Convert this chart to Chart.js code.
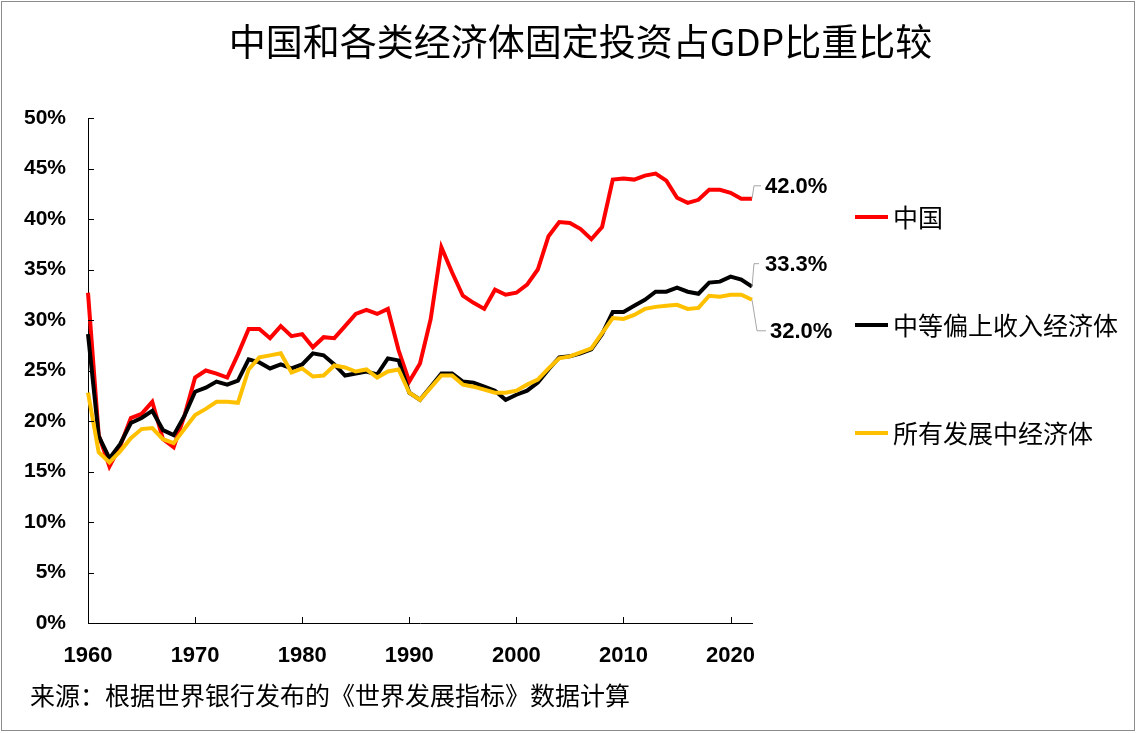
<!DOCTYPE html>
<html>
<head>
<meta charset="utf-8">
<script src="https://cdn.jsdelivr.net/npm/chart.js@4/dist/chart.umd.min.js"></script>
<style>
  html, body { margin: 0; padding: 0; background: #fff; }
  #wrap { width: 1137px; height: 733px; position: relative; }
</style>
</head>
<body>
<div id="wrap"><canvas id="chart" width="1137" height="733"></canvas></div>
<script>
// ================== DỮ LIỆU ==================
const years = [];
for (let y = 1960; y <= 2022; y++) years.push(y);

const chinaValues = [
  32.7, 18.6, 15.5, 17.5, 20.3, 20.7, 21.9, 18.2, 17.4, 20.5,
  24.3, 25.0, 24.7, 24.3, 26.6, 29.1, 29.1, 28.2, 29.4, 28.4,
  28.6, 27.3, 28.3, 28.2, 29.4, 30.6, 31.0, 30.6, 31.1, 27.0,
  23.9, 25.7, 30.1, 37.2, 34.7, 32.4, 31.7, 31.1, 33.0, 32.5,
  32.7, 33.5, 35.0, 38.3, 39.7, 39.6, 39.0, 38.0, 39.2, 43.9,
  44.0, 43.9, 44.3, 44.5, 43.8, 42.1, 41.6, 41.9, 42.9, 42.9,
  42.6, 42.0, 42.0
];
const upperMiddleValues = [
  28.6, 18.5, 16.3, 17.7, 19.8, 20.3, 21.0, 19.1, 18.6, 20.5,
  22.9, 23.3, 23.9, 23.6, 24.0, 26.1, 25.8, 25.2, 25.6, 25.2,
  25.6, 26.7, 26.5, 25.6, 24.5, 24.7, 24.9, 24.6, 26.2, 26.0,
  22.8, 22.1, 23.4, 24.7, 24.7, 23.9, 23.8, 23.4, 23.0, 22.1,
  22.6, 23.0, 23.8, 25.1, 26.3, 26.4, 26.7, 27.1, 28.6, 30.8,
  30.8, 31.4, 32.0, 32.8, 32.8, 33.2, 32.8, 32.6, 33.7, 33.8,
  34.3, 34.0, 33.3
];
const developingValues = [
  22.8, 16.9, 15.9, 17.0, 18.3, 19.2, 19.3, 18.2, 17.8, 19.2,
  20.6, 21.2, 21.9, 21.9, 21.8, 25.1, 26.3, 26.5, 26.7, 24.8,
  25.2, 24.4, 24.5, 25.5, 25.3, 24.9, 25.1, 24.3, 24.9, 25.1,
  22.8, 22.1, 23.3, 24.5, 24.5, 23.6, 23.4, 23.1, 22.8, 22.8,
  23.0, 23.6, 24.1, 25.2, 26.2, 26.4, 26.8, 27.2, 28.7, 30.2,
  30.1, 30.5, 31.1, 31.3, 31.4, 31.5, 31.1, 31.2, 32.4, 32.3,
  32.5, 32.5, 32.0
];
const seriesNames = ["中国", "中等偏上收入经济体", "所有发展中经济体"];
const seriesColors = ["#FF0000", "#000000", "#FFC000"];
const yTicks = [0, 5, 10, 15, 20, 25, 30, 35, 40, 45, 50];

const titleText = "中国和各类经济体固定投资占GDP比重比较";
const sourceText = "来源：根据世界银行发布的《世界发展指标》数据计算";

// ================== PLUGIN VẼ THÊM ==================
const extras = {
  id: "extras",
  afterDatasetsDraw(chart) {
    const ctx = chart.ctx;
    const area = chart.chartArea;
    const xs = chart.scales.x;
    const ys = chart.scales.y;
    ctx.save();

    // khung ngoài
    ctx.strokeStyle = "#8c8c8c";
    ctx.lineWidth = 1;
    ctx.strokeRect(1.5, 1.5, chart.width - 4, chart.height - 4);

    // vạch chia hướng vào trong
    ctx.strokeStyle = "#000";
    ctx.beginPath();
    years.forEach((yr, i) => {
      if (yr % 10 !== 0) return;
      const px = Math.round(xs.getPixelForValue(i)) + 0.5;
      ctx.moveTo(px, area.bottom);
      ctx.lineTo(px, area.bottom - 6);
    });
    yTicks.forEach(v => {
      const py = Math.round(ys.getPixelForValue(v)) + 0.5;
      ctx.moveTo(area.left, py);
      ctx.lineTo(area.left + 6, py);
    });
    ctx.stroke();

    // nhãn giá trị cuối + đường dẫn
    const offsets = [
      { dx: 2, dy: -13, lx: 9, tx: 13 },
      { dx: 2, dy: -23, lx: 7, tx: 13 },
      { dx: 5, dy: 31, lx: 14, tx: 18 }
    ];
    ctx.font = "bold 22px 'Liberation Sans'";
    ctx.textBaseline = "middle";
    ctx.textAlign = "left";
    chart.data.datasets.forEach((ds, i) => {
      const meta = chart.getDatasetMeta(i);
      const pt = meta.data[meta.data.length - 1];
      const o = offsets[i];
      ctx.strokeStyle = "#a6a6a6";
      ctx.lineWidth = 1;
      ctx.beginPath();
      ctx.moveTo(pt.x, pt.y);
      ctx.lineTo(pt.x + o.dx, pt.y + o.dy);
      ctx.lineTo(pt.x + o.lx, pt.y + o.dy);
      ctx.stroke();
      ctx.fillStyle = "#000";
      ctx.fillText(ds.data[ds.data.length - 1].toFixed(1) + "%", pt.x + o.tx, pt.y + o.dy + 1);
    });

    // chú giải
    const legendY = [99, 207, 315];
    ctx.font = "25px 'Noto Sans CJK SC'";
    chart.data.datasets.forEach((ds, i) => {
      const y = area.top + legendY[i];
      ctx.strokeStyle = ds.borderColor;
      ctx.lineWidth = 4;
      ctx.beginPath();
      ctx.moveTo(area.right + 103, y);
      ctx.lineTo(area.right + 136, y);
      ctx.stroke();
      ctx.fillStyle = "#000";
      ctx.fillText(ds.label, area.right + 141, y);
    });

    // nguồn dữ liệu
    ctx.font = "25px 'Noto Sans CJK SC'";
    ctx.fillText(sourceText, 30, area.bottom + 72);
    ctx.restore();
  }
};

// ================== BIỂU ĐỒ ==================
const ctx = document.getElementById("chart").getContext("2d");
new Chart(ctx, {
  type: "line",
  data: {
    labels: years,
    datasets: [chinaValues, upperMiddleValues, developingValues].map((vals, i) => ({
      label: seriesNames[i],
      data: vals,
      borderColor: seriesColors[i],
      backgroundColor: seriesColors[i],
      borderWidth: 4,
      pointRadius: 0,
      tension: 0,
      order: 3 - i
    }))
  },
  options: {
    responsive: false,
    animation: false,
    // lề phải âm để tiêu đề lệch sang phải giống bản gốc
    layout: { padding: { left: 0, right: -24, top: 0, bottom: 0 } },
    plugins: {
      legend: { display: false },
      tooltip: { enabled: false },
      title: {
        display: true,
        text: titleText,
        color: "#000",
        font: { family: "'Noto Sans CJK SC'", size: 37, weight: "normal" },
        padding: { top: 20, bottom: 53.6 }
      }
    },
    scales: {
      x: {
        type: "category",
        offset: false,
        grid: { display: false, drawTicks: false },
        border: { display: true, color: "#000", width: 1 },
        ticks: {
          autoSkip: false,
          maxRotation: 0,
          padding: 20,
          color: "#000",
          font: { family: "'Liberation Sans'", size: 22, weight: "bold" },
          callback: (v, i) => (years[i] % 10 === 0 ? String(years[i]) : "")
        },
        afterFit: s => { s.height = 110; }
      },
      y: {
        min: 0,
        max: 50,
        grid: { display: false, drawTicks: false },
        border: { display: true, color: "#000", width: 1 },
        ticks: {
          stepSize: 5,
          padding: 22,
          color: "#000",
          font: { family: "'Liberation Sans'", size: 21, weight: "bold" },
          callback: v => v + "%"
        },
        afterFit: s => { s.width = 88; }
      },
      spare: {
        position: "right",
        min: 0,
        max: 1,
        grid: { display: false, drawTicks: false },
        border: { display: false },
        ticks: { display: false },
        afterFit: s => { s.width = 409; }
      }
    }
  },
  plugins: [extras]
});
</script>
</body>
</html>
